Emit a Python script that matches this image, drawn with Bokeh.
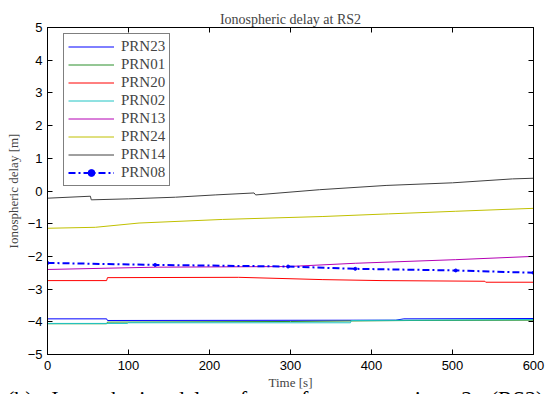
from bokeh.plotting import figure
from bokeh.models import LinearAxis, Range1d, Legend, LegendItem, FixedTicker, Div
from bokeh.layouts import column
from bokeh.embed import file_html
from bokeh.resources import INLINE

# ---- data ----
t_prn23 = [0, 73, 74, 430, 440, 600]
v_prn23 = [-3.91, -3.91, -3.96, -3.95, -3.91, -3.90]
t_prn01 = [0, 73, 74, 300, 450, 600]
v_prn01 = [-4.06, -4.06, -4.01, -3.99, -3.96, -3.95]
t_prn20 = [0, 73, 74, 236, 340, 413, 540, 541, 600]
v_prn20 = [-2.74, -2.74, -2.65, -2.64, -2.71, -2.74, -2.76, -2.79, -2.79]
t_prn02 = [0, 99, 100, 374, 375, 600]
v_prn02 = [-4.05, -4.05, -4.03, -4.03, -3.96, -3.93]
t_prn13 = [0, 133, 297, 380, 504, 600]
v_prn13 = [-2.40, -2.33, -2.31, -2.21, -2.10, -2.00]
t_prn24 = [0, 59, 113, 216, 340, 421, 504, 600]
v_prn24 = [-1.14, -1.11, -0.98, -0.87, -0.78, -0.70, -0.62, -0.53]
t_prn14 = [0, 53, 54, 100, 158, 207, 255, 257, 336, 418, 500, 574, 600]
v_prn14 = [-0.22, -0.16, -0.27, -0.24, -0.19, -0.12, -0.06, -0.12, 0.04, 0.17, 0.25, 0.37, 0.39]
t_prn08 = [0, 133, 297, 380, 504, 600]
v_prn08 = [-2.20, -2.26, -2.31, -2.38, -2.43, -2.50]

x_ticks = [0, 100, 200, 300, 400, 500, 600]
y_ticks = [-5, -4, -3, -2, -1, 0, 1, 2, 3, 4, 5]

title_text = "Ionospheric delay at RS2"
xlabel = "Time [s]"
ylabel = "Ionospheric delay [m]"
caption = "(b) Ionospheric delay for reference station 2 (RS2)"

SERIF = "Liberation Serif"
SANS = "Liberation Sans"

p = figure(width=545, height=394, output_backend="svg", toolbar_location=None,
           x_range=Range1d(0, 600), y_range=Range1d(-5, 5),
           min_border_left=47, min_border_right=12, min_border_top=27, min_border_bottom=40)
p.title.text = title_text
p.title.text_font = SERIF
p.title.text_font_size = "14px"
p.title.text_font_style = "normal"
p.title.align = "center"
p.title.standoff = 1
p.grid.visible = False
p.outline_line_color = "black"
p.outline_line_width = 1
p.background_fill_color = "white"
p.border_fill_color = "white"

for ax in [p.xaxis[0], p.yaxis[0]]:
    ax.major_tick_in = 5
    ax.major_tick_out = 0
    ax.minor_tick_line_color = None
    ax.major_label_text_font = SANS
    ax.major_label_text_font_size = "13px"
    ax.major_label_text_color = "black"
    ax.axis_label_text_font = SERIF
    ax.axis_label_text_font_size = "13px"
    ax.axis_label_text_font_style = "normal"
    ax.axis_line_color = "black"
    ax.major_tick_line_color = "black"
p.xaxis[0].ticker = FixedTicker(ticks=x_ticks)
p.yaxis[0].ticker = FixedTicker(ticks=y_ticks)
p.xaxis[0].axis_label = xlabel
p.yaxis[0].axis_label = ylabel
p.xaxis[0].major_label_standoff = 6
p.xaxis[0].axis_label_standoff = 2
p.yaxis[0].major_label_standoff = 5
p.yaxis[0].axis_label_standoff = 4

top_ax = LinearAxis(ticker=FixedTicker(ticks=x_ticks))
right_ax = LinearAxis(ticker=FixedTicker(ticks=y_ticks))
for ax in [top_ax, right_ax]:
    ax.major_tick_in = 5
    ax.major_tick_out = 0
    ax.minor_tick_line_color = None
    ax.major_label_text_font_size = "0px"
    ax.major_label_standoff = 0
    ax.axis_line_color = "black"
    ax.major_tick_line_color = "black"
p.add_layout(top_ax, "above")
p.add_layout(right_ax, "right")

series = [
    ("PRN23", t_prn23, v_prn23, "#0000ff"),
    ("PRN01", t_prn01, v_prn01, "#2a8f2a"),
    ("PRN20", t_prn20, v_prn20, "#ff0000"),
    ("PRN02", t_prn02, v_prn02, "#20c4c4"),
    ("PRN13", t_prn13, v_prn13, "#b400b4"),
    ("PRN24", t_prn24, v_prn24, "#c0c000"),
    ("PRN14", t_prn14, v_prn14, "#404040"),
]
items = []
for name, t, v, c in series:
    r = p.line(t, v, line_color=c, line_width=1)
    items.append(LegendItem(label=name, renderers=[r]))
r8 = p.line(t_prn08, v_prn08, line_color="#0000ff", line_width=2, line_dash="7 3 2 3")
m8 = p.scatter(t_prn08, v_prn08, marker="circle", size=3, fill_color="#0000ff", line_color="#0000ff")
items.append(LegendItem(label="PRN08", renderers=[r8, m8]))

legend = Legend(items=items, location=(16, 168))
legend.label_text_font = SERIF
legend.label_text_font_size = "15px"
legend.glyph_width = 46
legend.glyph_height = 17
legend.label_height = 17
legend.label_standoff = 7
legend.spacing = 1
legend.padding = 4
legend.margin = 0
legend.border_line_color = "black"
legend.border_line_width = 1
legend.background_fill_alpha = 1
p.add_layout(legend, "center")

cap_html = ('<div style="font-family:\'Liberation Serif\';font-size:22px;line-height:22px;'
            'white-space:nowrap;word-spacing:13px;padding-left:7px;padding-top:2px;color:black;">'
            + caption + '</div>')
cap = Div(text=cap_html, width=545, height=8, margin=(-8, 0, 0, 0),
          styles={"overflow": "hidden"})

layout = column(p, cap, spacing=0)

open("out.html", "w").write(file_html(layout, INLINE))
